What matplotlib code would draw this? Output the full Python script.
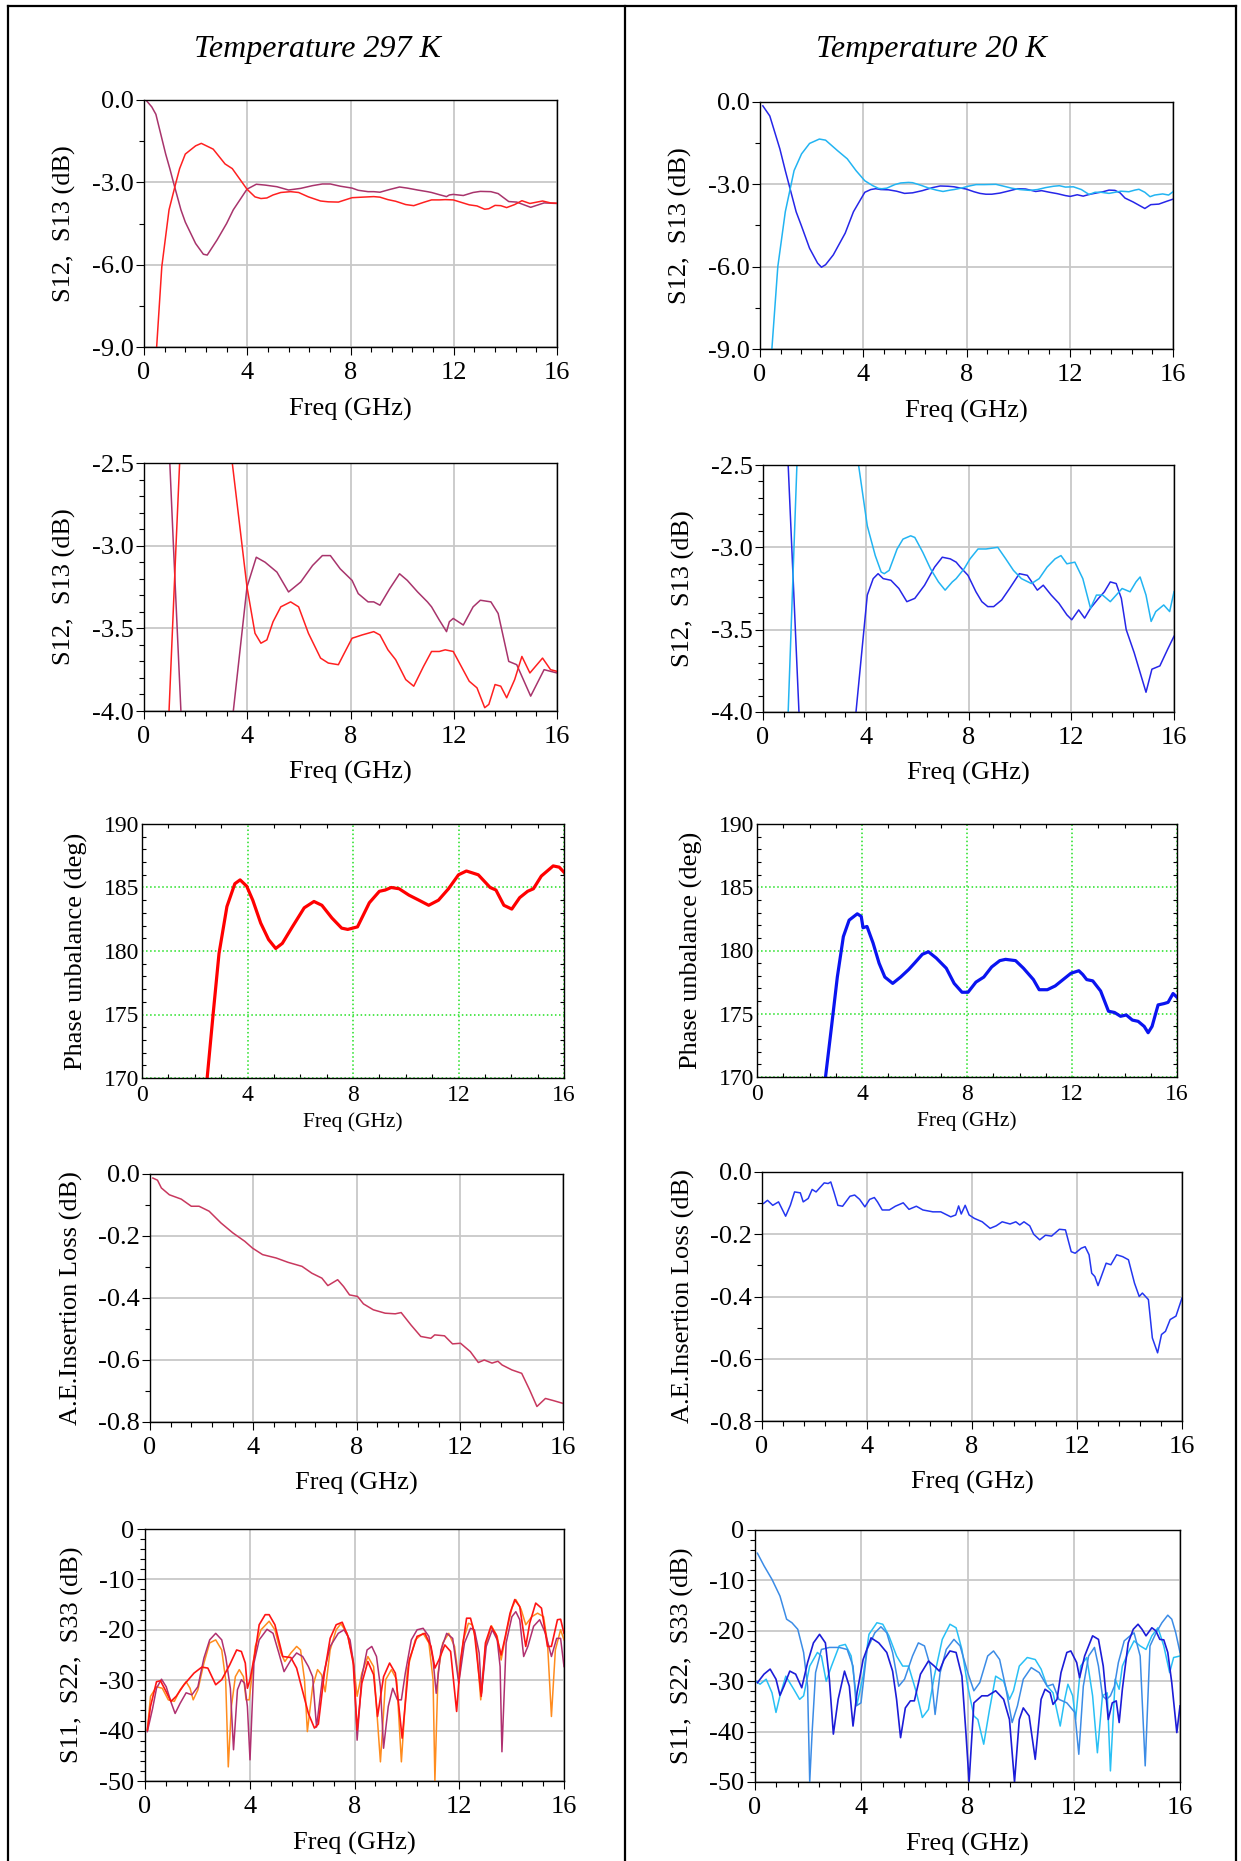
import matplotlib
matplotlib.use('Agg')
import matplotlib.pyplot as plt
from matplotlib.ticker import MultipleLocator, FormatStrFormatter
from matplotlib.lines import Line2D

plt.rcParams['font.family'] = ['Liberation Serif', 'DejaVu Serif']
plt.rcParams['axes.unicode_minus'] = False

# ---------------- data ----------------
titles = ['Temperature 297 K', 'Temperature 20 K']
xlabel = 'Freq (GHz)'
ylabels = ['S12,  S13 (dB)', 'S12,  S13 (dB)', 'Phase unbalance (deg)',
           'A.E.Insertion Loss (dB)', 'S11,  S22,  S33 (dB)']

# 297 K, S13 (rises from -9 dB)
f_s13_297 = [0.49, 0.69, 0.97, 1.24, 1.38, 1.6, 2.0, 2.22, 2.68, 3.14,
             3.42, 3.99, 4.3, 4.53, 4.76, 5.0, 5.3, 5.68, 5.99, 6.37,
             6.84, 7.14, 7.53, 7.76, 8.06, 8.45, 8.9, 9.14, 9.45, 9.75,
             10.14, 10.45, 10.83, 11.14, 11.44, 11.67, 11.98, 12.29, 12.6, 12.9,
             13.2, 13.36, 13.6, 13.82, 14.05, 14.36, 14.64, 14.95, 15.44, 15.75,
             16.0]
s13_297 = [-9.0, -6.07, -4.0, -3.0, -2.5, -1.97, -1.67, -1.58, -1.79, -2.33,
           -2.5, -3.25, -3.53, -3.59, -3.57, -3.46, -3.37, -3.34, -3.37, -3.53,
           -3.68, -3.71, -3.72, -3.65, -3.56, -3.54, -3.52, -3.54, -3.63, -3.69,
           -3.81, -3.85, -3.73, -3.64, -3.64, -3.63, -3.64, -3.73, -3.82, -3.86,
           -3.98, -3.96, -3.84, -3.85, -3.92, -3.81, -3.67, -3.77, -3.68, -3.75,
           -3.76]

# 297 K, S12 (dips to -5.6 dB)
f_s12_297 = [0.1, 0.3, 0.46, 0.84, 1.0, 1.14, 1.43, 1.6, 2.0, 2.3,
             2.45, 2.83, 3.2, 3.46, 3.99, 4.35, 4.69, 5.15, 5.6, 6.07,
             6.53, 6.91, 7.22, 7.6, 8.06, 8.3, 8.68, 8.9, 9.14, 9.52,
             9.9, 10.2, 10.6, 10.98, 11.14, 11.44, 11.72, 11.83, 11.98, 12.37,
             12.75, 13.03, 13.44, 13.72, 14.13, 14.44, 14.98, 15.5, 16.0]
s12_297 = [-0.03, -0.25, -0.52, -1.97, -2.5, -3.0, -4.0, -4.45, -5.23, -5.62,
           -5.65, -5.1, -4.5, -4.0, -3.25, -3.07, -3.10, -3.16, -3.28, -3.22,
           -3.12, -3.06, -3.06, -3.14, -3.21, -3.29, -3.34, -3.34, -3.36, -3.26,
           -3.17, -3.21, -3.28, -3.34, -3.37, -3.45, -3.52, -3.46, -3.44, -3.48,
           -3.37, -3.33, -3.34, -3.41, -3.70, -3.72, -3.91, -3.75, -3.77]

# 20 K, S12 (dips to -6 dB)
f_s12_20 = [0.11, 0.38, 0.77, 0.98, 1.12, 1.4, 1.6, 1.92, 2.23, 2.38,
            2.54, 2.84, 3.3, 3.62, 3.83, 4.06, 4.29, 4.48, 4.68, 4.98,
            5.29, 5.6, 5.91, 6.29, 6.68, 6.98, 7.29, 7.52, 7.68, 7.98,
            8.29, 8.52, 8.75, 8.98, 9.29, 9.6, 9.98, 10.29, 10.68, 10.91,
            11.22, 11.52, 11.83, 12.02, 12.29, 12.52, 12.75, 13.06, 13.29, 13.52,
            13.75, 13.95, 14.14, 14.45, 14.68, 14.91, 15.14, 15.45, 15.75, 16.0]
s12_20 = [-0.14, -0.51, -1.71, -2.5, -3.0, -4.0, -4.5, -5.33, -5.87, -6.02,
          -5.93, -5.57, -4.78, -4.0, -3.66, -3.29, -3.19, -3.16, -3.19, -3.20,
          -3.25, -3.33, -3.31, -3.23, -3.12, -3.06, -3.07, -3.09, -3.12, -3.17,
          -3.27, -3.33, -3.36, -3.36, -3.32, -3.25, -3.16, -3.17, -3.26, -3.23,
          -3.29, -3.34, -3.41, -3.44, -3.38, -3.43, -3.37, -3.31, -3.27, -3.21,
          -3.22, -3.31, -3.50, -3.64, -3.76, -3.88, -3.74, -3.72, -3.62, -3.54]

# 20 K, S13 (rises from -9 dB)
f_s13_20 = [0.46, 0.69, 0.98, 1.32, 1.61, 1.92, 2.3, 2.54, 3.0, 3.38,
            3.72, 4.06, 4.37, 4.6, 4.72, 4.91, 5.22, 5.45, 5.75, 5.91,
            6.22, 6.52, 6.83, 7.09, 7.37, 7.52, 7.83, 8.06, 8.37, 8.68,
            9.14, 9.45, 9.75, 10.06, 10.45, 10.75, 11.06, 11.37, 11.6, 11.83,
            12.14, 12.45, 12.75, 12.98, 13.22, 13.52, 13.75, 13.98, 14.29, 14.52,
            14.68, 14.91, 15.11, 15.29, 15.6, 15.83, 16.0]
s13_20 = [-9.0, -6.0, -4.0, -2.5, -1.89, -1.51, -1.35, -1.39, -1.77, -2.07,
          -2.5, -2.87, -3.05, -3.15, -3.16, -3.14, -3.01, -2.95, -2.93, -2.94,
          -3.03, -3.13, -3.21, -3.26, -3.21, -3.19, -3.13, -3.07, -3.01, -3.01,
          -3.0, -3.07, -3.14, -3.19, -3.22, -3.19, -3.12, -3.07, -3.05, -3.10,
          -3.09, -3.19, -3.37, -3.29, -3.29, -3.33, -3.29, -3.25, -3.27, -3.21,
          -3.18, -3.29, -3.45, -3.39, -3.35, -3.39, -3.27]

# phase unbalance
f_ph_297 = [2.47, 2.7, 2.92, 3.22, 3.52, 3.72, 3.97, 4.2, 4.5, 4.8,
            5.07, 5.32, 5.7, 6.15, 6.52, 6.82, 7.2, 7.57, 7.8, 8.17,
            8.62, 9.0, 9.22, 9.45, 9.75, 10.12, 10.5, 10.87, 11.24, 11.62,
            12.0, 12.3, 12.75, 13.2, 13.42, 13.72, 14.02, 14.32, 14.62, 14.84,
            15.14, 15.59, 15.82, 16.0]
ph_297 = [170, 175.1, 179.8, 183.5, 185.3, 185.6, 185.1, 184.0, 182.2, 180.9,
          180.2, 180.6, 181.9, 183.4, 183.9, 183.6, 182.6, 181.8, 181.7, 181.9,
          183.8, 184.7, 184.8, 185.0, 184.9, 184.4, 184.0, 183.6, 184.0, 184.9,
          186.0, 186.3, 186.0, 185.0, 184.8, 183.6, 183.3, 184.2, 184.7, 184.9,
          185.9, 186.7, 186.6, 186.2]

f_ph_20 = [2.61, 2.84, 3.06, 3.29, 3.51, 3.82, 3.97, 4.04, 4.19, 4.42,
           4.65, 4.87, 5.17, 5.47, 5.78, 6.0, 6.3, 6.53, 6.83, 7.21,
           7.51, 7.81, 8.04, 8.34, 8.64, 8.94, 9.25, 9.47, 9.85, 10.15,
           10.53, 10.75, 11.06, 11.36, 11.66, 11.96, 12.26, 12.41, 12.56, 12.79,
           13.09, 13.39, 13.62, 13.85, 14.07, 14.3, 14.52, 14.75, 14.9, 15.05,
           15.28, 15.5, 15.66, 15.85, 16.0]
ph_20 = [170, 174, 177.9, 181.1, 182.4, 182.9, 182.7, 181.8, 181.9, 180.6,
         179.0, 177.9, 177.4, 177.9, 178.5, 179.0, 179.7, 179.9, 179.4, 178.6,
         177.4, 176.7, 176.7, 177.5, 177.9, 178.7, 179.2, 179.3, 179.2, 178.6,
         177.7, 176.9, 176.9, 177.2, 177.7, 178.2, 178.4, 178.1, 177.7, 177.6,
         176.8, 175.2, 175.1, 174.8, 174.9, 174.5, 174.4, 174.0, 173.5, 174.0,
         175.7, 175.8, 175.9, 176.6, 176.3]

# amplitude error insertion loss
f_il_297 = [0.11, 0.29, 0.44, 0.75, 1.21, 1.6, 1.9, 2.29, 2.75, 3.21,
            3.67, 3.97, 4.36, 4.89, 5.35, 5.89, 6.27, 6.66, 6.89, 7.27,
            7.5, 7.73, 8.04, 8.27, 8.65, 9.11, 9.5, 9.73, 10.11, 10.49,
            10.88, 11.03, 11.41, 11.72, 12.03, 12.41, 12.72, 12.95, 13.25, 13.48,
            13.64, 14.02, 14.4, 14.71, 14.99, 15.32, 15.63, 16.0]
il_297 = [-0.013, -0.02, -0.045, -0.067, -0.081, -0.104, -0.104, -0.12, -0.158, -0.19,
          -0.217, -0.239, -0.26, -0.271, -0.285, -0.298, -0.32, -0.336, -0.36, -0.341,
          -0.363, -0.39, -0.395, -0.419, -0.438, -0.449, -0.451, -0.447, -0.487, -0.524,
          -0.53, -0.519, -0.522, -0.548, -0.546, -0.573, -0.608, -0.6, -0.61, -0.604,
          -0.616, -0.632, -0.643, -0.697, -0.75, -0.724, -0.731, -0.74]

f_il_20 = [0.06, 0.21, 0.41, 0.63, 0.9, 1.08, 1.24, 1.46, 1.57, 1.76,
           1.91, 2.06, 2.37, 2.52, 2.62, 2.74, 2.89, 3.07, 3.35, 3.53,
           3.72, 3.92, 4.1, 4.28, 4.4, 4.58, 4.85, 5.08, 5.38, 5.6,
           5.88, 6.13, 6.51, 6.81, 7.19, 7.38, 7.49, 7.59, 7.74, 7.89,
           8.09, 8.39, 8.69, 8.92, 9.15, 9.45, 9.67, 9.82, 9.98, 10.2,
           10.35, 10.58, 10.8, 11.03, 11.33, 11.56, 11.78, 11.93, 12.16, 12.31,
           12.46, 12.56, 12.68, 12.8, 13.11, 13.29, 13.51, 13.74, 13.96, 14.19,
           14.37, 14.49, 14.72, 14.87, 15.07, 15.22, 15.37, 15.55, 15.77, 16.0]
il_20 = [-0.101, -0.091, -0.107, -0.096, -0.142, -0.107, -0.064, -0.067, -0.096, -0.085,
         -0.056, -0.064, -0.035, -0.037, -0.032, -0.064, -0.107, -0.11, -0.078, -0.074,
         -0.088, -0.112, -0.088, -0.082, -0.096, -0.122, -0.122, -0.11, -0.099, -0.12,
         -0.11, -0.122, -0.128, -0.128, -0.144, -0.138, -0.109, -0.135, -0.107, -0.138,
         -0.149, -0.16, -0.181, -0.173, -0.16, -0.167, -0.16, -0.17, -0.16, -0.173,
         -0.2, -0.218, -0.203, -0.206, -0.184, -0.186, -0.256, -0.261, -0.245, -0.24,
         -0.266, -0.325, -0.336, -0.365, -0.293, -0.298, -0.266, -0.272, -0.282, -0.357,
         -0.4, -0.389, -0.41, -0.533, -0.581, -0.522, -0.512, -0.474, -0.463, -0.405]

# return loss 297 K: red, orange, purple
f_rl_red = [0.09, 0.21, 0.44, 0.59, 0.81, 0.99, 1.19, 1.49, 1.87, 2.17,
            2.4, 2.7, 2.93, 3.23, 3.5, 3.68, 3.83, 3.91, 4.01, 4.21,
            4.36, 4.59, 4.74, 4.96, 5.26, 5.57, 5.79, 6.09, 6.24, 6.47,
            6.62, 6.85, 7.07, 7.3, 7.53, 7.75, 7.95, 8.1, 8.28, 8.51,
            8.73, 8.88, 9.11, 9.34, 9.56, 9.82, 10.09, 10.39, 10.69, 10.92,
            11.07, 11.22, 11.45, 11.67, 11.9, 12.05, 12.28, 12.43, 12.58, 12.84,
            13.0, 13.21, 13.41, 13.6, 13.76, 13.94, 14.12, 14.31, 14.46, 14.54,
            14.69, 14.92, 15.14, 15.37, 15.52, 15.75, 15.87, 16.0]
rl_red = [-39.9, -35.2, -30.3, -30.1, -32.3, -34.2, -33.2, -30.9, -28.6, -27.4,
          -27.6, -30.9, -29.9, -27.0, -24.0, -24.3, -26.6, -31.6, -29.9, -24.3,
          -19.0, -17.0, -17.0, -19.0, -25.3, -25.5, -27.6, -33.6, -36.6, -39.5,
          -38.7, -28.6, -21.7, -19.0, -18.5, -21.3, -26.6, -39.9, -30.6, -26.3,
          -28.9, -37.2, -29.3, -26.6, -28.6, -41.5, -26.0, -21.3, -20.7, -23.3,
          -27.6, -26.0, -23.0, -24.3, -36.2, -26.0, -17.7, -17.7, -20.7, -33.2,
          -22.6, -19.3, -21.0, -25.0, -21.3, -16.7, -14.0, -15.4, -20.7, -23.3,
          -18.7, -14.7, -15.7, -23.3, -23.3, -18.0, -17.9, -20.7]

f_rl_orange = [0.09, 0.21, 0.44, 0.66, 0.89, 1.12, 1.34, 1.57, 1.72, 1.84,
               2.02, 2.25, 2.47, 2.7, 2.93, 3.08, 3.18, 3.3, 3.45, 3.6,
               3.76, 3.86, 3.98, 4.21, 4.43, 4.74, 4.96, 5.19, 5.34, 5.57,
               5.79, 5.94, 6.09, 6.2, 6.4, 6.59, 6.74, 6.88, 7.07, 7.3,
               7.48, 7.72, 7.95, 8.1, 8.28, 8.51, 8.73, 8.99, 9.19, 9.41,
               9.61, 9.79, 10.02, 10.32, 10.62, 10.84, 11.0, 11.07, 11.19, 11.37,
               11.6, 11.82, 11.98, 12.16, 12.35, 12.5, 12.65, 12.82, 13.0, 13.23,
               13.45, 13.6, 13.79, 14.01, 14.16, 14.36, 14.54, 14.77, 14.99, 15.22,
               15.37, 15.52, 15.67, 15.87, 16.0]
rl_orange = [-39.9, -33.2, -31.3, -31.6, -33.9, -34.2, -31.9, -30.3, -31.6, -33.9,
             -31.9, -26.6, -22.6, -22.0, -24.0, -29.9, -47.2, -35.2, -29.3, -27.9,
             -29.3, -33.9, -33.9, -23.3, -20.0, -18.3, -20.0, -24.6, -26.3, -24.6,
             -23.3, -24.0, -29.9, -40.2, -31.3, -27.9, -28.9, -32.3, -24.0, -20.0,
             -18.8, -20.7, -26.0, -33.2, -28.6, -25.3, -27.3, -46.2, -29.9, -27.9,
             -29.9, -46.2, -27.9, -22.0, -20.7, -22.6, -29.9, -50.0, -28.6, -22.6,
             -20.7, -23.3, -29.9, -22.0, -18.7, -19.0, -22.6, -33.9, -23.3, -19.2,
             -21.3, -26.0, -20.7, -15.7, -14.0, -15.9, -19.0, -17.4, -16.7, -17.4,
             -22.6, -37.2, -24.0, -20.0, -22.0]

f_rl_purple = [0.09, 0.29, 0.44, 0.63, 0.81, 1.01, 1.15, 1.34, 1.57, 1.79,
               2.02, 2.25, 2.47, 2.7, 2.93, 3.08, 3.26, 3.38, 3.53, 3.68,
               3.8, 3.91, 4.01, 4.16, 4.36, 4.66, 4.89, 5.11, 5.31, 5.57,
               5.79, 6.02, 6.24, 6.4, 6.55, 6.77, 7.07, 7.38, 7.6, 7.83,
               7.98, 8.1, 8.28, 8.48, 8.66, 8.84, 8.99, 9.11, 9.29, 9.46,
               9.64, 9.79, 9.94, 10.17, 10.39, 10.62, 10.84, 11.0, 11.12, 11.3,
               11.52, 11.75, 11.98, 12.2, 12.43, 12.58, 12.76, 12.85, 13.03, 13.26,
               13.45, 13.56, 13.63, 13.79, 14.01, 14.16, 14.31, 14.46, 14.62, 14.84,
               15.07, 15.29, 15.52, 15.72, 15.87, 16.0]
rl_purple = [-40.2, -35.6, -31.6, -29.8, -31.3, -34.6, -36.6, -34.6, -32.5, -32.9,
             -31.3, -25.6, -22.0, -20.7, -22.0, -25.3, -31.6, -43.8, -31.9, -29.9,
             -30.6, -35.2, -45.8, -26.6, -22.0, -19.9, -20.7, -24.6, -28.3, -26.0,
             -24.6, -25.3, -27.3, -29.3, -39.3, -29.9, -23.3, -20.7, -20.0, -22.0,
             -27.3, -41.9, -29.3, -24.0, -23.3, -25.3, -31.3, -43.5, -35.2, -31.6,
             -33.9, -33.9, -28.6, -22.0, -20.0, -19.7, -21.3, -26.0, -32.6, -24.0,
             -20.7, -21.7, -30.6, -22.6, -19.7, -20.0, -24.6, -32.6, -23.3, -20.0,
             -22.0, -27.3, -44.2, -22.6, -17.4, -16.4, -18.0, -25.3, -23.3, -19.3,
             -18.0, -20.7, -25.3, -21.7, -21.7, -27.3]

# return loss 20 K: medium blue, light cyan, dark blue
f_rl_mid = [0.09, 0.34, 0.64, 0.94, 1.19, 1.39, 1.61, 1.83, 1.98, 2.06,
            2.15, 2.28, 2.5, 2.8, 3.17, 3.47, 3.69, 3.81, 3.99, 4.22,
            4.51, 4.74, 4.96, 5.18, 5.41, 5.63, 5.93, 6.15, 6.38, 6.6,
            6.78, 6.97, 7.2, 7.49, 7.72, 8.01, 8.24, 8.46, 8.76, 8.98,
            9.21, 9.43, 9.68, 9.88, 10.1, 10.4, 10.7, 11.0, 11.22, 11.44,
            11.74, 12.04, 12.19, 12.36, 12.56, 12.78, 12.93, 13.08, 13.23, 13.38,
            13.53, 13.68, 13.9, 14.12, 14.27, 14.5, 14.69, 14.87, 15.1, 15.32,
            15.54, 15.69, 15.84, 16.0]
rl_mid = [-4.6, -7.1, -9.8, -13.1, -17.7, -18.4, -19.7, -24.3, -31.0, -50.0,
          -40.2, -28.3, -23.7, -23.3, -23.3, -23.7, -27.0, -34.9, -34.3, -23.7,
          -20.4, -19.2, -20.4, -24.3, -31.0, -29.6, -25.0, -22.4, -23.0, -27.0,
          -36.6, -28.3, -23.7, -21.7, -23.0, -28.3, -31.9, -30.3, -25.0, -24.0,
          -25.7, -31.0, -38.2, -34.9, -29.6, -27.3, -28.3, -31.0, -30.6, -33.6,
          -34.3, -36.2, -44.5, -31.0, -25.0, -23.3, -27.0, -32.9, -33.6, -32.9,
          -31.0, -26.3, -22.0, -21.0, -20.4, -25.0, -46.8, -23.0, -20.4, -18.4,
          -16.9, -17.7, -20.4, -24.3]

f_rl_light = [0.04, 0.19, 0.42, 0.64, 0.79, 0.94, 1.16, 1.46, 1.68, 1.83,
              2.06, 2.35, 2.5, 2.68, 2.88, 3.17, 3.4, 3.62, 3.77, 3.84,
              4.07, 4.29, 4.59, 4.81, 5.04, 5.33, 5.56, 5.78, 6.08, 6.3,
              6.53, 6.75, 7.05, 7.34, 7.57, 7.79, 8.01, 8.24, 8.39, 8.61,
              8.83, 9.06, 9.36, 9.58, 9.73, 9.95, 10.25, 10.55, 10.77, 11.0,
              11.22, 11.49, 11.66, 11.78, 11.96, 12.07, 12.26, 12.49, 12.71, 12.89,
              13.08, 13.26, 13.38, 13.56, 13.71, 13.83, 14.05, 14.27, 14.5, 14.72,
              14.94, 15.17, 15.39, 15.61, 15.76, 16.0]
rl_light = [-30.0, -30.6, -29.6, -32.3, -36.2, -32.9, -29.0, -31.6, -33.6, -32.9,
            -27.0, -24.3, -25.0, -30.0, -27.0, -23.0, -22.7, -25.0, -31.0, -34.6,
            -29.0, -20.7, -18.4, -18.7, -21.0, -25.0, -27.0, -27.0, -32.3, -37.2,
            -35.6, -29.0, -21.7, -18.7, -19.4, -23.7, -31.0, -36.9, -37.6, -42.5,
            -35.6, -29.0, -30.0, -33.6, -31.9, -27.0, -25.3, -25.7, -27.6, -31.0,
            -32.3, -38.9, -33.6, -30.6, -32.9, -37.6, -27.0, -25.3, -32.9, -44.2,
            -32.9, -32.3, -47.8, -29.6, -31.6, -27.0, -24.3, -22.0, -23.0, -23.7,
            -21.0, -19.4, -23.0, -28.3, -25.3, -25.0]

f_rl_dark = [0.09, 0.34, 0.57, 0.79, 0.94, 1.09, 1.31, 1.53, 1.76, 1.98,
             2.2, 2.43, 2.65, 2.8, 2.95, 3.13, 3.37, 3.55, 3.69, 3.84,
             4.07, 4.37, 4.66, 4.96, 5.18, 5.33, 5.48, 5.66, 5.85, 6.0,
             6.23, 6.53, 6.75, 6.94, 7.12, 7.34, 7.57, 7.79, 7.94, 8.06,
             8.24, 8.54, 8.76, 9.06, 9.36, 9.58, 9.77, 9.95, 10.1, 10.32,
             10.55, 10.77, 10.92, 11.11, 11.22, 11.37, 11.52, 11.74, 11.89, 12.11,
             12.22, 12.41, 12.71, 12.93, 13.11, 13.3, 13.45, 13.6, 13.71, 13.83,
             14.05, 14.24, 14.42, 14.57, 14.72, 14.94, 15.09, 15.24, 15.39, 15.54,
             15.69, 15.88, 16.0]
rl_dark = [-30.3, -28.6, -27.6, -29.6, -32.8, -31.0, -28.0, -28.6, -31.3, -26.3,
           -22.4, -20.7, -22.4, -29.6, -40.5, -33.6, -28.0, -31.0, -38.9, -32.3,
           -25.7, -21.4, -22.4, -24.3, -28.0, -33.6, -41.2, -35.3, -33.9, -33.9,
           -28.6, -26.0, -27.0, -28.0, -25.7, -24.0, -24.3, -29.0, -40.2, -50.0,
           -34.3, -32.9, -32.9, -31.9, -33.6, -37.6, -50.0, -37.6, -35.3, -36.9,
           -45.5, -33.6, -31.6, -32.3, -34.6, -33.6, -28.3, -24.3, -24.0, -26.3,
           -29.3, -25.0, -21.0, -21.7, -27.0, -37.6, -34.3, -33.9, -38.2, -31.6,
           -22.4, -19.7, -18.7, -19.7, -21.0, -19.4, -20.0, -21.7, -21.8, -24.3,
           -30.3, -40.2, -34.9]

# ---------------- layout ----------------
W, H = 1241, 1861
fig = plt.figure(figsize=(W / 100, H / 100), dpi=100)
fig.patch.set_facecolor('white')

# axes boxes in pixels: (x0, y0, x1, y1), y measured from top
boxes = [
    [(144, 100, 557, 347), (760, 102, 1173, 349)],
    [(144, 463, 557, 711), (763, 465, 1174, 712)],
    [(142, 824, 564, 1078), (757, 824, 1177, 1077)],
    [(150, 1174, 563, 1422), (762, 1172, 1182, 1421)],
    [(145, 1529, 564, 1781), (755, 1530, 1180, 1782)],
]
ylab_off = [80, 80, 66, 79, 73]
xlab_off = [62, 61, 44, 61, 62]


def add_ax(b):
    x0, y0, x1, y1 = b
    return fig.add_axes([x0 / W, 1 - y1 / H, (x1 - x0) / W, (y1 - y0) / H])


def style(ax, ylim, ystep, yminor, yfmt, xminor, phase=False):
    ax.set_xlim(0, 16)
    ax.set_ylim(*ylim)
    ax.xaxis.set_major_locator(MultipleLocator(4))
    ax.xaxis.set_minor_locator(MultipleLocator(xminor))
    ax.yaxis.set_major_locator(MultipleLocator(ystep))
    ax.yaxis.set_minor_locator(MultipleLocator(yminor))
    ax.yaxis.set_major_formatter(FormatStrFormatter(yfmt))
    for s in ax.spines.values():
        s.set_linewidth(1.0)
    if phase:
        ax.tick_params(which='both', direction='in', top=True, right=True,
                       labelsize=17, width=0.8)
        ax.tick_params(which='major', length=0)
        ax.tick_params(which='minor', length=3)
        ax.tick_params(axis='x', pad=5)
        ax.tick_params(axis='y', pad=2)
        ax.grid(True, which='major', color='#22e022', linestyle=':', linewidth=1.1)
    else:
        ax.tick_params(which='both', direction='out', labelsize=19, width=0.8)
        ax.tick_params(which='major', length=6)
        ax.tick_params(which='minor', length=3.5)
        ax.tick_params(axis='x', pad=5)
        ax.tick_params(axis='y', pad=1.5)
        ax.grid(True, which='major', color='#c8c8c8', linewidth=1.3)
    ax.set_axisbelow(True)


def labels(ax, b, row):
    x0, y0, x1, y1 = b
    size = 15.5 if row == 2 else 19
    ysize = 19 if row == 2 else 19
    fig.text((x0 + x1) / 2 / W, 1 - (y1 + xlab_off[row]) / H, xlabel,
             ha='center', va='center', fontsize=size)
    fig.text((x0 - ylab_off[row]) / W, 1 - (y0 + y1) / 2 / H, ylabels[row],
             ha='center', va='center', rotation=90, fontsize=ysize)


axes = [[add_ax(b) for b in row] for row in boxes]

# rows 1 and 2: S12 / S13 (full range and zoomed)
for r, (ylim, ystep, yminor) in enumerate([((-9, 0), 3, 1.5), ((-4, -2.5), 0.5, 0.1)]):
    a = axes[r][0]
    a.plot(f_s12_297, s12_297, color='#a8346c', lw=1.1)
    a.plot(f_s13_297, s13_297, color='#ff2020', lw=1.1)
    style(a, ylim, ystep, yminor, '%.1f', 0.8)
    b = axes[r][1]
    b.plot(f_s12_20, s12_20, color='#2626e8', lw=1.1)
    b.plot(f_s13_20, s13_20, color='#22b4f2', lw=1.1)
    style(b, ylim, ystep, yminor, '%.1f', 0.8)

# row 3: phase unbalance
axes[2][0].plot(f_ph_297, ph_297, color='#ff0000', lw=2.3)
axes[2][1].plot(f_ph_20, ph_20, color='#0a14f0', lw=2.3)
for a in axes[2]:
    style(a, (170, 190), 5, 1, '%d', 1, phase=True)

# row 4: insertion loss
axes[3][0].plot(f_il_297, il_297, color='#c8385e', lw=1.1)
axes[3][1].plot(f_il_20, il_20, color='#2436f0', lw=1.1)
for a in axes[3]:
    style(a, (-0.8, 0), 0.2, 0.1, '%.1f', 0.8)

# row 5: return loss
a = axes[4][0]
a.plot(f_rl_orange, rl_orange, color='#ff8c1e', lw=1.1)
a.plot(f_rl_purple, rl_purple, color='#b03070', lw=1.1)
a.plot(f_rl_red, rl_red, color='#ff1414', lw=1.2)
b = axes[4][1]
b.plot(f_rl_light, rl_light, color='#28c0f5', lw=1.1)
b.plot(f_rl_mid, rl_mid, color='#3c8ce6', lw=1.1)
b.plot(f_rl_dark, rl_dark, color='#1c1cd8', lw=1.2)
for a in axes[4]:
    style(a, (-50, 0), 10, 2, '%d', 0.8)

for r in range(5):
    for c in range(2):
        labels(axes[r][c], boxes[r][c], r)

# column titles
fig.text(317 / W, 1 - 50 / H, titles[0], ha='center', va='center',
         fontsize=23, style='italic')
fig.text(931 / W, 1 - 50 / H, titles[1], ha='center', va='center',
         fontsize=23, style='italic')

# outer frame and middle divider
frame = dict(color='black', lw=1.6, transform=fig.transFigure)
fig.add_artist(Line2D([8 / W, 1236 / W], [1 - 6 / H, 1 - 6 / H], **frame))
fig.add_artist(Line2D([8 / W, 8 / W], [0, 1 - 6 / H], **frame))
fig.add_artist(Line2D([1236 / W, 1236 / W], [0, 1 - 6 / H], **frame))
fig.add_artist(Line2D([625 / W, 625 / W], [0, 1 - 6 / H], **frame))

fig.savefig('out.png', dpi=100)
